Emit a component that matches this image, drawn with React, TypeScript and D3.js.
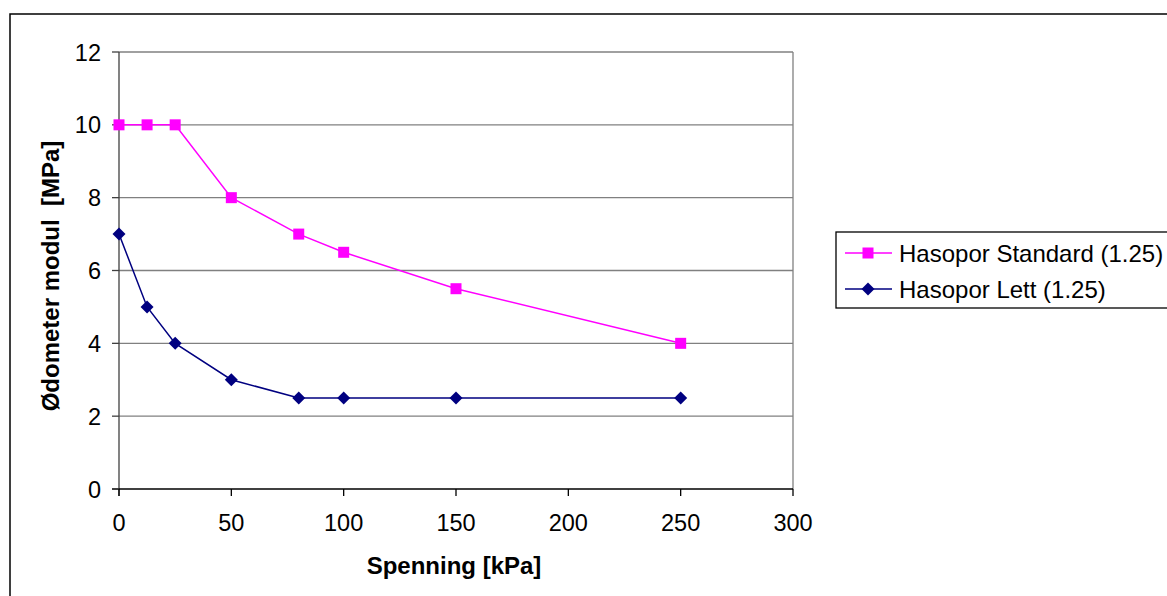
import * as d3 from 'd3';

const xTicks = [0, 50, 100, 150, 200, 250, 300];
const yTicks = [0, 2, 4, 6, 8, 10, 12];

const spenning = [0, 12.5, 25, 50, 80, 100, 150, 250];
const standard = [10, 10, 10, 8, 7, 6.5, 5.5, 4];
const lett = [7, 5, 4, 3, 2.5, 2.5, 2.5, 2.5];

const seriesNames = ['Hasopor Standard (1.25)', 'Hasopor Lett (1.25)'];
const seriesColors = ['#FF00FF', '#000080'];

const W = 1167;
const H = 596;
const plot = { left: 119, right: 793, top: 52, bottom: 489 };
const font = 'Arial, "Liberation Sans", sans-serif';

const App = () => {
  const x = d3.scaleLinear().domain([0, 300]).range([plot.left, plot.right]);
  const y = d3.scaleLinear().domain([0, 12]).range([plot.bottom, plot.top]);

  const line = d3.line<[number, number]>()
    .x(d => x(d[0]))
    .y(d => y(d[1]));

  const stdPts = spenning.map((s, i) => [s, standard[i]] as [number, number]);
  const lettPts = spenning.map((s, i) => [s, lett[i]] as [number, number]);

  const square = (cx: number, cy: number, k: string) => (
    <rect key={k} x={cx - 5.5} y={cy - 5.5} width={11} height={11} fill={seriesColors[0]} />
  );
  const diamond = (cx: number, cy: number, k: string) => (
    <path key={k} d={`M${cx},${cy - 6.5}L${cx + 6.5},${cy}L${cx},${cy + 6.5}L${cx - 6.5},${cy}Z`} fill={seriesColors[1]} />
  );

  return (
    <svg width={W} height={H} style={{ position: 'absolute', left: 0, top: 0, background: '#fff' }}>
      <rect x={10} y={14} width={W + 10} height={H + 10} fill="#fff" stroke="#000" strokeWidth={1.5} />

      {/* grid */}
      {yTicks.filter(t => t > 0).map(t => (
        <line key={'g' + t} x1={plot.left} x2={plot.right} y1={y(t)} y2={y(t)} stroke="#808080" strokeWidth={1.3} />
      ))}
      <line x1={plot.right} x2={plot.right} y1={plot.top} y2={plot.bottom} stroke="#808080" strokeWidth={1.3} />

      {/* axes */}
      <line x1={plot.left} x2={plot.left} y1={plot.top} y2={plot.bottom + 7} stroke="#404040" strokeWidth={1.3} />
      <line x1={plot.left - 7} x2={plot.right} y1={plot.bottom} y2={plot.bottom} stroke="#000" strokeWidth={1.3} />
      {yTicks.map(t => (
        <g key={'y' + t}>
          <line x1={plot.left - 7} x2={plot.left} y1={y(t)} y2={y(t)} stroke="#404040" strokeWidth={1.3} />
          <text x={plot.left - 18} y={y(t) + 8.5} textAnchor="end" fontFamily={font} fontSize={23.5}>{t}</text>
        </g>
      ))}
      {xTicks.map(t => (
        <g key={'x' + t}>
          <line x1={x(t)} x2={x(t)} y1={plot.bottom} y2={plot.bottom + 7} stroke="#000" strokeWidth={1.3} />
          <text x={x(t)} y={plot.bottom + 42} textAnchor="middle" fontFamily={font} fontSize={23.5}>{t}</text>
        </g>
      ))}

      {/* series */}
      <path d={line(stdPts) ?? ''} fill="none" stroke={seriesColors[0]} strokeWidth={1.5} />
      <path d={line(lettPts) ?? ''} fill="none" stroke={seriesColors[1]} strokeWidth={1.5} />
      {stdPts.map((p, i) => square(x(p[0]), y(p[1]), 's' + i))}
      {lettPts.map((p, i) => diamond(x(p[0]), y(p[1]), 'l' + i))}

      {/* axis titles */}
      <text x={454} y={574} textAnchor="middle" fontFamily={font} fontSize={24} fontWeight="bold">Spenning [kPa]</text>
      <text transform="translate(59,276) rotate(-90)" textAnchor="middle" fontFamily={font} fontSize={24} fontWeight="bold" style={{ whiteSpace: 'pre' }}>{'Ødometer modul  [MPa]'}</text>

      {/* legend */}
      <rect x={836} y={232} width={340} height={76} fill="#fff" stroke="#000" strokeWidth={1.3} />
      {seriesNames.map((n, i) => {
        const ly = 253 + i * 36;
        return (
          <g key={n}>
            <line x1={845} x2={892} y1={ly} y2={ly} stroke={seriesColors[i]} strokeWidth={1.5} />
            {i === 0 ? square(868, ly, 'ls') : diamond(868, ly, 'ld')}
            <text x={899} y={ly + 8.5} fontFamily={font} fontSize={24}>{n}</text>
          </g>
        );
      })}
    </svg>
  );
};

export default App;
